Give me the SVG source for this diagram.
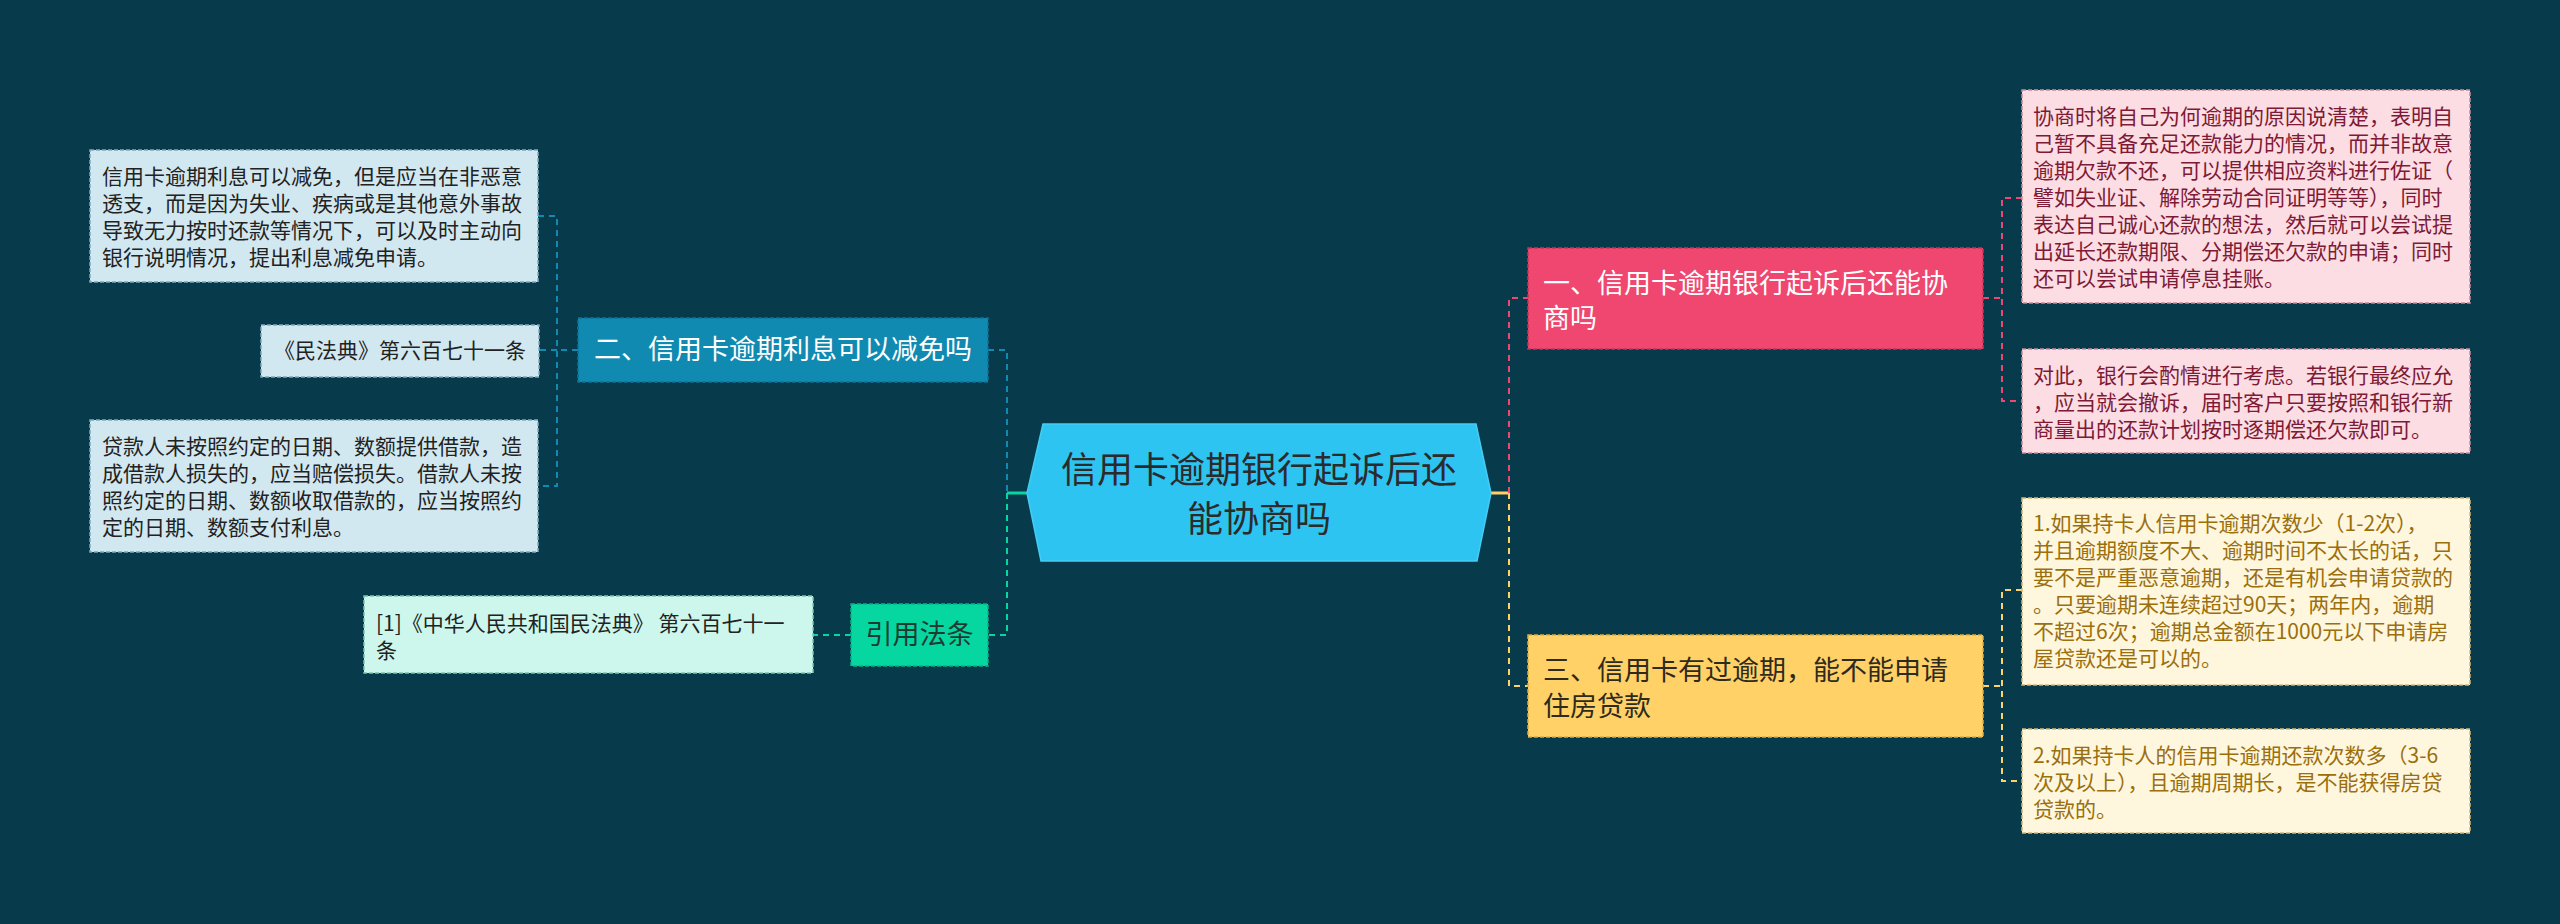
<svg xmlns="http://www.w3.org/2000/svg" width="2560" height="924" viewBox="0 0 2560 924">
<style>
text{font-family:"Noto Sans CJK SC","Noto Sans",sans-serif;}
.sm{font-size:21px;}
.md{font-size:27px;}
.lg{font-size:36px;}
.bx{stroke-width:1.5;stroke-dasharray:4 2;}
.cn{fill:none;stroke-width:2;stroke-dasharray:6 5;}
.sol{fill:none;stroke-width:3;}
</style>
<rect x="0" y="0" width="2560" height="924" fill="#073B4C"/>

<g id="connectors">
  <!-- left side of center -->
  <path class="cn" stroke="#118AB2" d="M988 350 H1007 V493"/>
  <path class="cn" stroke="#06D6A0" d="M1007 493 V635 H988"/>
  <path class="sol" stroke="#06D6A0" d="M1007 493 H1027"/>
  <!-- right side of center -->
  <path class="sol" stroke="#FFD166" d="M1491 493 H1509"/>
  <path class="cn" stroke="#EF476F" d="M1509 493 V298 H1528"/>
  <path class="cn" stroke="#FFD166" d="M1509 493 V686 H1528"/>
  <!-- node 二 children -->
  <path class="cn" stroke="#118AB2" d="M578 350 H557"/>
  <path class="cn" stroke="#118AB2" d="M538 216 H557 V486 H538"/>
  <path class="cn" stroke="#118AB2" d="M557 350 H539"/>
  <!-- 引用法条 child -->
  <path class="cn" stroke="#06D6A0" d="M851 635 H813"/>
  <!-- node 一 children -->
  <path class="cn" stroke="#EF476F" d="M1983 298 H2002"/>
  <path class="cn" stroke="#EF476F" d="M2022 198 H2002 V401 H2022"/>
  <!-- node 三 children -->
  <path class="cn" stroke="#FFD166" d="M1983 686 H2002"/>
  <path class="cn" stroke="#FFD166" d="M2022 590 H2002 V781 H2022"/>
</g>

<g id="center">
  <polygon points="1043,424 1476,424 1491,493 1477,561 1041,561 1027,493" fill="#2EC4F2" stroke="#45CCF5" stroke-width="1.5"/>
  <text class="lg" x="1259" y="483" text-anchor="middle" fill="#2B2B2B">信用卡逾期银行起诉后还</text>
  <text class="lg" x="1259" y="532" text-anchor="middle" fill="#2B2B2B">能协商吗</text>
</g>

<g id="node-2">
  <rect class="bx" x="578" y="318" width="410" height="64" fill="#118AB2" stroke="#0C7398"/>
  <text class="md" x="594" y="359" fill="#FFFFFF">二、信用卡逾期利息可以减免吗</text>
</g>

<g id="node-2-a">
  <rect class="bx" x="90" y="150" width="448" height="132" fill="#D2E8F0" stroke="#7FA9BC"/>
  <text class="sm" fill="#222222">
    <tspan x="102" y="184">信用卡逾期利息可以减免，但是应当在非恶意</tspan>
    <tspan x="102" y="211">透支，而是因为失业、疾病或是其他意外事故</tspan>
    <tspan x="102" y="238">导致无力按时还款等情况下，可以及时主动向</tspan>
    <tspan x="102" y="265">银行说明情况，提出利息减免申请。</tspan>
  </text>
</g>

<g id="node-2-b">
  <rect class="bx" x="261" y="325" width="278" height="52" fill="#D2E8F0" stroke="#7FA9BC"/>
  <text class="sm" x="274" y="358" fill="#222222">《民法典》第六百七十一条</text>
</g>

<g id="node-2-c">
  <rect class="bx" x="90" y="420" width="448" height="132" fill="#D2E8F0" stroke="#7FA9BC"/>
  <text class="sm" fill="#222222">
    <tspan x="102" y="454">贷款人未按照约定的日期、数额提供借款，造</tspan>
    <tspan x="102" y="481">成借款人损失的，应当赔偿损失。借款人未按</tspan>
    <tspan x="102" y="508">照约定的日期、数额收取借款的，应当按照约</tspan>
    <tspan x="102" y="535">定的日期、数额支付利息。</tspan>
  </text>
</g>

<g id="node-cite">
  <rect class="bx" x="851" y="604" width="137" height="62" fill="#06D6A0" stroke="#04B386"/>
  <text class="md" x="919.5" y="644" text-anchor="middle" fill="#1E3B33">引用法条</text>
</g>

<g id="node-cite-a">
  <rect class="bx" x="364" y="596" width="449" height="77" fill="#CDF7EC" stroke="#7CC3B0"/>
  <text class="sm" fill="#222222">
    <tspan x="376" y="631">[1]《中华人民共和国民法典》 第六百七十一</tspan>
    <tspan x="376" y="658">条</tspan>
  </text>
</g>

<g id="node-1">
  <rect class="bx" x="1528" y="248" width="455" height="101" fill="#EF476F" stroke="#C9345A"/>
  <text class="md" fill="#FFFFFF">
    <tspan x="1543" y="293">一、信用卡逾期银行起诉后还能协</tspan>
    <tspan x="1543" y="328">商吗</tspan>
  </text>
</g>

<g id="node-1-a">
  <rect class="bx" x="2022" y="90" width="448" height="213" fill="#FCDDE4" stroke="#C98A9B"/>
  <text class="sm" fill="#7E1A35">
    <tspan x="2033" y="124">协商时将自己为何逾期的原因说清楚，表明自</tspan>
    <tspan x="2033" y="151">己暂不具备充足还款能力的情况，而并非故意</tspan>
    <tspan x="2033" y="178">逾期欠款不还，可以提供相应资料进行佐证（</tspan>
    <tspan x="2033" y="205">譬如失业证、解除劳动合同证明等等），同时</tspan>
    <tspan x="2033" y="232">表达自己诚心还款的想法，然后就可以尝试提</tspan>
    <tspan x="2033" y="259">出延长还款期限、分期偿还欠款的申请；同时</tspan>
    <tspan x="2033" y="286">还可以尝试申请停息挂账。</tspan>
  </text>
</g>

<g id="node-1-b">
  <rect class="bx" x="2022" y="349" width="448" height="104" fill="#FCDDE4" stroke="#C98A9B"/>
  <text class="sm" fill="#7E1A35">
    <tspan x="2033" y="383">对此，银行会酌情进行考虑。若银行最终应允</tspan>
    <tspan x="2033" y="410">，应当就会撤诉，届时客户只要按照和银行新</tspan>
    <tspan x="2033" y="437">商量出的还款计划按时逐期偿还欠款即可。</tspan>
  </text>
</g>

<g id="node-3">
  <rect class="bx" x="1528" y="635" width="455" height="102" fill="#FFD166" stroke="#D9AE45"/>
  <text class="md" fill="#2E2A1E">
    <tspan x="1543" y="680">三、信用卡有过逾期，能不能申请</tspan>
    <tspan x="1543" y="716">住房贷款</tspan>
  </text>
</g>

<g id="node-3-a">
  <rect class="bx" x="2022" y="498" width="448" height="187" fill="#FFF6DE" stroke="#D2B77A"/>
  <text class="sm" fill="#9A6F0C">
    <tspan x="2033" y="531">1.如果持卡人信用卡逾期次数少（1-2次），</tspan>
    <tspan x="2033" y="558">并且逾期额度不大、逾期时间不太长的话，只</tspan>
    <tspan x="2033" y="585">要不是严重恶意逾期，还是有机会申请贷款的</tspan>
    <tspan x="2033" y="612">。只要逾期未连续超过90天；两年内，逾期</tspan>
    <tspan x="2033" y="639">不超过6次；逾期总金额在1000元以下申请房</tspan>
    <tspan x="2033" y="666">屋贷款还是可以的。</tspan>
  </text>
</g>

<g id="node-3-b">
  <rect class="bx" x="2022" y="729" width="448" height="104" fill="#FFF6DE" stroke="#D2B77A"/>
  <text class="sm" fill="#9A6F0C">
    <tspan x="2033" y="763">2.如果持卡人的信用卡逾期还款次数多（3-6</tspan>
    <tspan x="2033" y="790">次及以上），且逾期周期长，是不能获得房贷</tspan>
    <tspan x="2033" y="817">贷款的。</tspan>
  </text>
</g>
</svg>
